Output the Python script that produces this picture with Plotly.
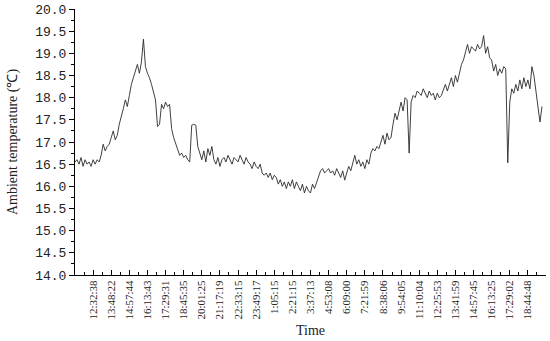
import plotly.graph_objects as go

# Ambient temperature readings (°C), equally spaced samples
temps = [
    16.55,
    16.6, 16.5, 16.65, 16.45, 16.6, 16.5, 16.55, 16.45, 16.6, 16.5, 16.6, 16.55,
    16.7,
    16.95, 16.8, 16.9, 16.95, 17.1, 17.25, 17.05,
    17.15, 17.4, 17.55, 17.75, 17.95, 17.8, 18.05, 18.3, 18.45, 18.6, 18.75, 18.55, 18.8, 19.32,
    18.7, 18.55, 18.45, 18.3, 18.1, 17.95, 17.35, 17.4, 17.85, 17.75, 17.9, 17.8, 17.85, 17.3,
    17.1, 16.95, 16.85, 16.7, 16.75, 16.65, 16.7, 16.6, 16.55, 17.38, 17.4, 17.38, 16.9,
    16.75, 16.6, 16.8, 16.55, 16.85, 16.7, 16.9,
    16.6, 16.5, 16.65, 16.45, 16.6,
    16.65, 16.55, 16.7, 16.6, 16.5, 16.65, 16.6, 16.55, 16.7, 16.6, 16.5, 16.65, 16.55,
    16.5, 16.4, 16.55, 16.45, 16.4, 16.5,
    16.3, 16.25, 16.3, 16.2, 16.3, 16.15, 16.25, 16.2,
    16.05, 16.15, 16.0, 16.1, 15.95, 16.1, 16.0, 16.15, 15.95, 16.1, 16.0, 15.9, 16.05, 15.85,
    16.0, 15.9, 15.85, 16.05, 15.95,
    16.1, 16.2,
    16.35, 16.4, 16.3, 16.35,
    16.4, 16.3, 16.35, 16.25, 16.4, 16.3, 16.2, 16.35,
    16.14,
    16.3, 16.45, 16.35, 16.5,
    16.7,
    16.5, 16.6, 16.45, 16.55, 16.4, 16.6, 16.5,
    16.75, 16.85, 16.8, 16.9, 16.85,
    17.0, 17.15, 16.95, 17.2, 17.05, 17.1,
    17.4, 17.65, 17.5, 17.7,
    17.9, 17.7, 18.0,
    17.95,
    16.75,
    17.9, 18.05, 18.0, 18.15, 18.1,
    18.05, 18.2, 18.1, 18.0, 18.15, 18.05, 18.1, 17.95, 18.1, 18.0, 18.05,
    18.2, 18.3, 18.15, 18.3,
    18.45, 18.25, 18.5, 18.35, 18.55,
    18.75, 18.85,
    19.05, 19.2, 19.0, 19.15, 19.1, 19.05, 19.2, 19.1,
    19.15,
    19.4,
    19.0, 19.15, 18.9,
    18.85, 18.6, 18.75, 18.5,
    18.65, 18.55, 18.7, 18.65,
    16.53,
    17.9,
    18.2, 18.1, 18.3, 18.15,
    18.4, 18.2, 18.45, 18.25, 18.4, 18.2,
    18.7, 18.5, 18.1, 17.7, 17.45, 17.8,
]

time_labels = [
    "12:32:38", "13:48:22", "14:57:44", "16:13:43", "17:29:31", "18:45:35",
    "20:01:25", "21:17:19", "22:33:15", "23:49:17", "1:05:15", "2:21:15",
    "3:37:13", "4:53:08", "6:09:00", "7:21:59", "8:38:06", "9:54:05",
    "11:10:04", "12:25:53", "13:41:59", "14:57:45", "16:13:25", "17:29:02",
    "18:44:48",
]

samples_per_label = 9
sample_index = list(range(len(temps)))
label_pos = [samples_per_label * (k + 1) for k in range(len(time_labels))]
x_end = samples_per_label * (len(time_labels) + 1)

fig = go.Figure()
fig.add_trace(go.Scatter(
    x=sample_index, y=temps, mode="lines",
    line=dict(color="#2a2a2a", width=0.9),
    showlegend=False, hoverinfo="skip",
))

txt = "#222222"
fig.update_layout(
    width=550, height=341,
    margin=dict(l=75, r=4, t=9, b=66),
    paper_bgcolor="white", plot_bgcolor="white",
    font=dict(family="Liberation Serif", color=txt),
    xaxis=dict(
        range=[0, x_end], tickmode="array", tickvals=label_pos, ticktext=time_labels,
        tickangle=-90, tickfont=dict(family="Liberation Serif", size=11, color=txt),
        ticks="inside", ticklen=5, tickcolor="black", tickwidth=1,
        minor=dict(dtick=samples_per_label / 2, tick0=0, ticks="inside", ticklen=3,
                   tickcolor="black", showgrid=False),
        showline=True, linecolor="black", linewidth=1,
        showgrid=False, zeroline=False,
        title=dict(text="Time", font=dict(family="Liberation Serif", size=14, color=txt), standoff=6),
        automargin=False,
    ),
    yaxis=dict(
        range=[14, 20], dtick=0.5, tick0=14, tickformat=".1f",
        tickfont=dict(family="Liberation Mono", size=13, color=txt),
        ticks="outside", ticklen=5, tickcolor="black", tickwidth=1,
        minor=dict(dtick=0.25, tick0=14, ticks="outside", ticklen=3,
                   tickcolor="black", showgrid=False),
        showline=True, linecolor="black", linewidth=1,
        showgrid=False, zeroline=False,
        ticklabeloverflow="allow",
        title=dict(text="Ambient temperature (℃)", font=dict(family="Liberation Serif", size=14, color=txt), standoff=14),
        automargin=False,
    ),
)

fig.write_html("out.html", config={"displayModeBar": False},
               post_script="document.body.style.margin='0px';")
